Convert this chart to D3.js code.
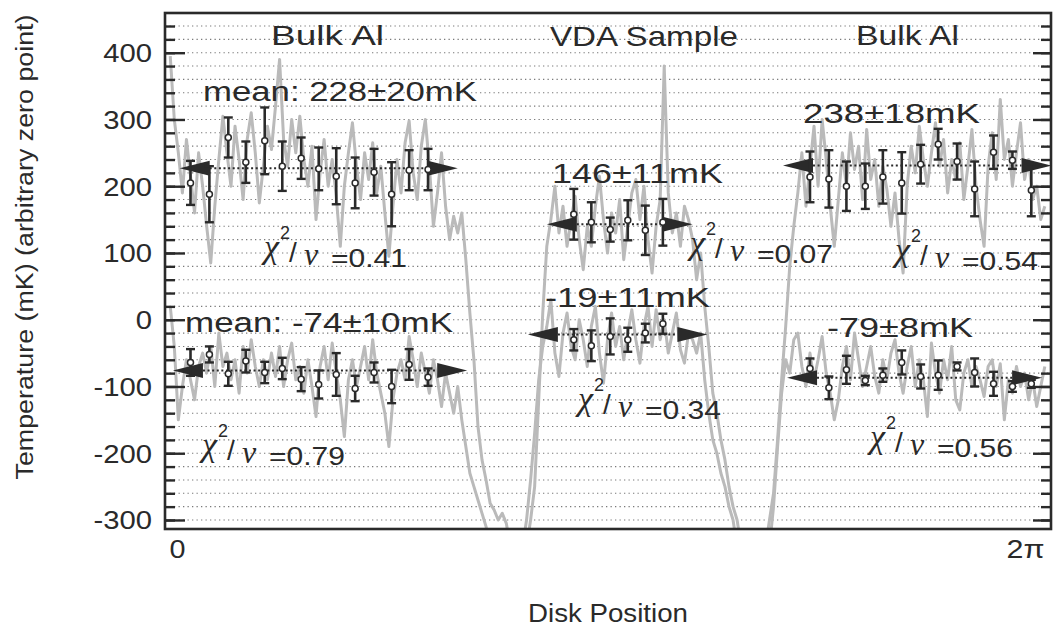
<!DOCTYPE html>
<html><head><meta charset="utf-8">
<script src="https://cdn.jsdelivr.net/npm/d3@7"></script>
<style>body{margin:0;background:#fff}svg{display:block}text{fill:#2a2a2a;font-family:"Liberation Sans",Arial,Helvetica,sans-serif}</style>
</head><body>
<svg id="c" width="1054" height="628"></svg>
<script>
// ---------------- DATA ----------------
const regionTitles = ["Bulk Al", "VDA Sample", "Bulk Al"];
const fitLabels = ["mean: 228±20mK", "mean: -74±10mK", "146±11mK", "-19±11mK", "238±18mK", "-79±8mK"];
const chiValues = ["0.41", "0.79", "0.07", "0.34", "0.54", "0.56"];
const yTickValues = [400, 300, 200, 100, 0, -100, -200, -300];
const xTickValues = [0, 2 * Math.PI];
const xTickLabels = ["0", "2π"];

// gray traces, sampled from disk position -0.05 rad in steps of 0.03 rad
const TRACE_X0 = -0.05, TRACE_DX = 0.03;
const traceUpper = [
395,300,250,190,270, 215,160,250,200,140, 85,170,240,305,250, 200,290,240,180,270,
310,250,175,230,290, 255,320,390,270,230, 300,250,305,240,200, 260,150,220,270,200,
240,185,110,200,250, 295,230,180,250,210, 265,190,230,160,95, 170,240,190,265,298,
220,180,260,300,230, 140,190,250,170,120, 155,130,160,90,10, -60,-160,-210,-240,-275,
-285,-300,-290,-305,-340, -340,-340,-340,-340,-300, -250,-120,10,110,150, 200,130,170,110,150,
185,120,75,140,110, 170,215,150,100,160, 130,180,90,140,190, 210,150,200,120,70,
140,180,380,190,130, 160,110,170,150,120, 60,100,20,-40,-110, -140,-180,-210,-250,-280,
-300,-340,-340,-340,-340, -340,-340,-340,-300,-260, -180,-90,-10,80,140, 190,250,170,230,290,
200,300,240,170,110, 180,250,200,280,225, 260,180,285,210,240, 170,230,195,140,190,
120,70,200,260,220, 290,240,200,250,295, 230,270,190,240,210, 265,180,230,285,200,
150,110,230,280,210, 330,240,270,200,250, 295,210,240,180,200, 150,170];
const traceLower = [
20,-40,-150,-100,-60, -90,-120,-70,-50,-80, -40,-100,-20,-70,-50, -90,-60,-110,-40,-80,
-30,-70,-100,-60,-90, -50,-85,-40,-100,-60, -35,-90,-70,-110,-60, -100,-145,-70,-40,-90,
-35,-80,-120,-175,-90, -60,-100,-70,-40,-90, -30,-80,-110,-140,-190, -120,-80,-60,-90,-25,
-60,-100,-50,-80,-110, -60,-90,-130,-80,-110, -140,-100,-150,-190,-230, -250,-270,-290,-310,-340,
-340,-340,-340,-340,-340, -340,-340,-340,-300,-240, -170,-90,-40,-10,30, -50,-85,-20,10,-40,
-60,0,-30,-70,-10, 20,-50,-95,-30,10, -40,-10,-60,-20,15, -30,-65,-10,20,-40,
15,-30,0,-50,-20, 10,-45,-65,-20,-30, -50,-20,-90,-140,-180, -200,-230,-250,-280,-300,
-340,-340,-340,-340,-340, -340,-340,-340,-340,-280, -190,-110,-60,-80,-30, -20,-70,-100,-50,-90,
-60,-25,-80,-110,-150, -120,-70,-40,-90,-20, -60,-100,-70,-40,-85, -110,-60,-90,-50,-30,
-80,-110,-70,-40,-100, -60,-90,-145,-35,-80, -110,-60,-90,-40,-120, -135,-80,-60,-100,-70,
-90,-115,-70,-60,-100, -66,-150,-90,-110,-70, -100,-80,-120,-90,-130, -100,-70];

// binned points with error bars
const bulk1X = [0.10,0.24,0.38,0.51,0.65,0.78,0.92,1.05,1.18,1.32,1.46,1.59,1.72,1.86];
const vdaX   = [2.94,3.07,3.21,3.34,3.47,3.60];
const bulk2X = [4.69,4.83,4.96,5.10,5.23,5.37,5.51,5.64,5.78,5.91,6.05,6.19,6.33];
const bulk1UpperY   = [205,188,273,236,268,230,242,226,215,205,221,188,224,225];
const bulk1UpperErr = [33,42,30,31,50,37,31,32,42,38,35,48,30,31];
const bulk1LowerY   = [-64,-52,-81,-62,-79,-73,-89,-97,-82,-103,-79,-100,-67,-86];
const bulk1LowerErr = [20,12,18,17,16,16,18,21,32,19,15,25,23,13];
const vdaUpperY   = [158,146,135,149,134,146];
const vdaUpperErr = [38,30,18,30,37,35];
const vdaLowerY   = [-30,-39,-25,-30,-20,-6];
const vdaLowerErr = [16,23,27,18,14,15];
const bulk2UpperY   = [214,211,200,200,214,205,233,263,237,196,251,239,194];
const bulk2UpperErr = [38,43,37,34,40,46,29,23,27,41,25,13,39];
const bulk2LowerY   = [-73,-102,-75,-91,-83,-64,-85,-83,-70,-79,-96,-100,-96];
const bulk2LowerErr = [15,17,21,7,10,18,18,22,6,21,18,8,6];

// fitted means (drawn level) and extent of each fit
const fitMean  = [227, -76, 143, -22, 231, -87];
const fitStart = [0.02, -0.03, 2.74, 2.60, 4.49, 4.52];
const fitEnd   = [2.08, 2.15, 3.82, 3.93, 6.48, 6.41];

// ---------------- LAYOUT ----------------
const L = 165, R = 1051, T = 13, B = 529;
const svg = d3.select("#c");
svg.append("rect").attr("width",1054).attr("height",628).attr("fill","#fff");
const x = d3.scaleLinear([0, 2 * Math.PI], [177, 1025]);
const y = d3.scaleLinear([-313.5, 459.5], [B, T]);
const dark = "#2a2a2a";

svg.append("clipPath").attr("id","plot").append("rect")
  .attr("x",L).attr("y",T).attr("width",R-L).attr("height",B-T);

// dotted grid every 20 mK
const gridVals = d3.range(-300, 460, 20);
svg.append("g").selectAll("line").data(gridVals).join("line")
  .attr("x1",L).attr("x2",R).attr("y1",d=>y(d)).attr("y2",d=>y(d))
  .attr("stroke","#7a7a7a").attr("stroke-width",1.1).attr("stroke-dasharray","1.3,3.2");

// traces
const line = d3.line().x((d,i)=>x(TRACE_X0 + i*TRACE_DX)).y(d=>y(d));
const tg = svg.append("g").attr("clip-path","url(#plot)");
[traceUpper, traceLower].forEach(t=>{
  tg.append("path").attr("d", line(t)).attr("fill","none")
    .attr("stroke","#bababa").attr("stroke-width",3).attr("stroke-linejoin","round");
});

// fits: dotted mean line + arrowheads
const AL = 30, AH = 7.5;
const fg = svg.append("g").attr("clip-path","url(#plot)");
fitMean.forEach((m,i)=>{
  const x1 = x(fitStart[i]), x2 = x(fitEnd[i]), py = y(m);
  fg.append("line").attr("x1",x1+AL).attr("x2",x2-AL).attr("y1",py).attr("y2",py)
    .attr("stroke",dark).attr("stroke-width",2).attr("stroke-dasharray","2,2.6");
  fg.append("path").attr("d",`M${x1},${py}L${x1+AL},${py-AH}L${x1+AL},${py+AH}Z`).attr("fill",dark);
  fg.append("path").attr("d",`M${x2},${py}L${x2-AL},${py-AH}L${x2-AL},${py+AH}Z`).attr("fill",dark);
});

// error bars
const groups = [
  [bulk1X, bulk1UpperY, bulk1UpperErr], [bulk1X, bulk1LowerY, bulk1LowerErr],
  [vdaX, vdaUpperY, vdaUpperErr], [vdaX, vdaLowerY, vdaLowerErr],
  [bulk2X, bulk2UpperY, bulk2UpperErr], [bulk2X, bulk2LowerY, bulk2LowerErr]];
const eg = svg.append("g");
const CW = 4.5;
groups.forEach(([gx, gy, ge])=>{
  gx.forEach((xv,i)=>{
    const px = x(xv), top = y(gy[i]+ge[i]), bot = y(gy[i]-ge[i]);
    eg.append("line").attr("x1",px).attr("x2",px).attr("y1",top).attr("y2",bot).attr("stroke",dark).attr("stroke-width",2.6);
    eg.append("line").attr("x1",px-CW).attr("x2",px+CW).attr("y1",top).attr("y2",top).attr("stroke",dark).attr("stroke-width",2.4);
    eg.append("line").attr("x1",px-CW).attr("x2",px+CW).attr("y1",bot).attr("y2",bot).attr("stroke",dark).attr("stroke-width",2.4);
    eg.append("circle").attr("cx",px).attr("cy",y(gy[i])).attr("r",3).attr("fill","#fff").attr("stroke",dark).attr("stroke-width",1.5);
  });
});

// labels
const titlePos = [[271,45,113],[550,46,188],[856,45,103]];
regionTitles.forEach((t,i)=>{
  svg.append("text").attr("x",titlePos[i][0]).attr("y",titlePos[i][1]).attr("textLength",titlePos[i][2])
    .attr("lengthAdjust","spacingAndGlyphs").style("font-size","28px").text(t);
});
const fitPos = [[203,101,274],[185,332,268],[552,183,171],[545,307,165],[803,123,177],[827,337,146]];
fitLabels.forEach((t,i)=>{
  svg.append("text").attr("x",fitPos[i][0]).attr("y",fitPos[i][1]).attr("textLength",fitPos[i][2])
    .attr("lengthAdjust","spacingAndGlyphs").style("font-size","27px").text(t);
});
const chiPos = [[264,267],[202,465],[690,263],[578,419],[895,270],[870,457]];
const serif = '"Liberation Serif","DejaVu Serif",serif';
chiValues.forEach((v,i)=>{
  const [x0,yb] = chiPos[i];
  const g = svg.append("g");
  g.append("text").attr("x",x0).attr("y",yb-9).style("font-family",serif).style("font-style","italic").style("font-size","34px").text("χ");
  g.append("text").attr("x",x0+16).attr("y",yb-28).style("font-size","18px").text("2");
  g.append("text").attr("x",x0+25).attr("y",yb-5).style("font-size","28px").text("/");
  g.append("text").attr("x",x0+40).attr("y",yb-2).style("font-family",serif).style("font-style","italic").style("font-size","32px").text("ν");
  g.append("text").attr("x",x0+67).attr("y",yb).attr("textLength",76).attr("lengthAdjust","spacingAndGlyphs").style("font-size","25px").text("=" + v);
});

// axes (ticks drawn inward)
const minorVals = d3.range(-300, 460, 20);
function axisStyle(g){ g.select(".domain").remove(); g.selectAll("line").attr("stroke",dark).attr("stroke-width",2.4); }
svg.append("g").attr("transform",`translate(${L},0)`).call(d3.axisLeft(y).tickValues(minorVals).tickSize(-10).tickFormat("")).call(axisStyle);
svg.append("g").attr("transform",`translate(${R},0)`).call(d3.axisRight(y).tickValues(minorVals).tickSize(-10).tickFormat("")).call(axisStyle);
svg.append("g").attr("transform",`translate(${R},0)`).call(d3.axisRight(y).tickValues(yTickValues).tickSize(-18).tickFormat("")).call(axisStyle);
const ya = svg.append("g").attr("transform",`translate(${L},0)`)
  .call(d3.axisLeft(y).tickValues(yTickValues).tickSize(-20).tickPadding(13).tickFormat(d => String(d)));
axisStyle(ya);
ya.selectAll("text").attr("fill",dark).style("font-size","25px").style("font-family",'"Liberation Sans",Arial,sans-serif')
  .attr("x",-13/1.17).attr("dy","0.36em").attr("transform","scale(1.17,1)");

const xa = svg.append("g").attr("transform",`translate(0,${B})`)
  .call(d3.axisBottom(x).tickValues(xTickValues).tickSize(0).tickPadding(11).tickFormat((d,i)=>xTickLabels[i]));
xa.select(".domain").remove();
xa.selectAll(".tick text").attr("fill",dark).style("font-size","25px").style("font-family",'"Liberation Sans",Arial,sans-serif')
  .attr("textLength",(d,i)=>i===0?16:38).attr("lengthAdjust","spacingAndGlyphs");

// frame
svg.append("rect").attr("x",L).attr("y",T).attr("width",R-L).attr("height",B-T)
  .attr("fill","none").attr("stroke",dark).attr("stroke-width",2.6);

// axis titles
svg.append("text").attr("x",608).attr("y",622).attr("text-anchor","middle").attr("textLength",160)
  .attr("lengthAdjust","spacingAndGlyphs").style("font-size","25px").text("Disk Position");
svg.append("text").attr("transform","translate(33,247) rotate(-90)").attr("text-anchor","middle")
  .attr("textLength",465).attr("lengthAdjust","spacingAndGlyphs").style("font-size","23px")
  .text("Temperature (mK) (arbitrary zero point)");
</script></body></html>
